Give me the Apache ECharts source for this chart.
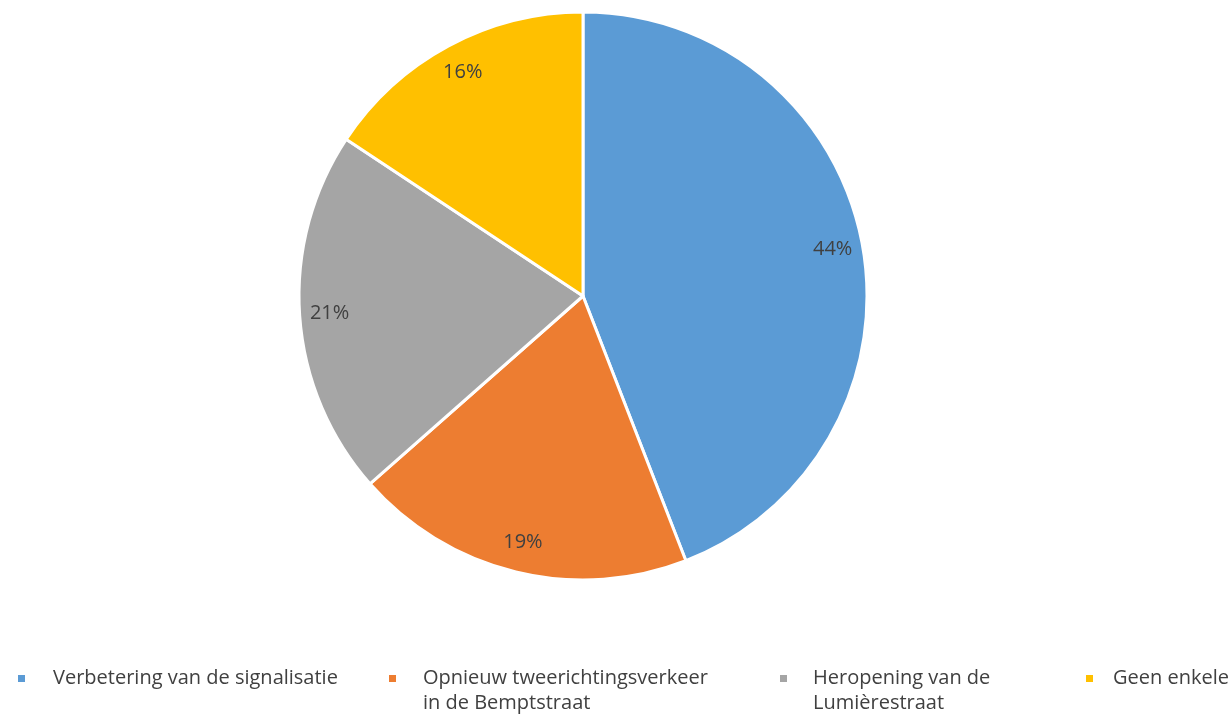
<!DOCTYPE html>
<html>
<head>
<meta charset="utf-8">
<script src="https://cdn.jsdelivr.net/npm/echarts@6/dist/echarts.min.js"></script>
<style>
html,body{margin:0;padding:0;background:#fff;}
#chart{width:1232px;height:714px;}
</style>
</head>
<body>
<div id="chart"></div>
<script>
// Data
const categories = [
  'Verbetering van de signalisatie',
  'Opnieuw tweerichtingsverkeer in de Bemptstraat',
  'Heropening van de Lumièrestraat',
  'Geen enkele'
];
const legendTexts = [
  'Verbetering van de signalisatie',
  'Opnieuw tweerichtingsverkeer\nin de Bemptstraat',
  'Heropening van de\nLumièrestraat',
  'Geen enkele'
];
const values = [44.1, 19.4, 20.8, 15.7];
const colors = ['#5B9BD5', '#ED7D31', '#A5A5A5', '#FFC000'];

const FONT = 'Open Sans';
const legendLeft = [16, 387, 778, 1084];
const textPadLeft = [22, 21, 20, 14];
const twoLine = legendTexts.map(t => t.indexOf('\n') >= 0);
const LH = 25;
const iconCenterY = 678.5;

const data = categories.map((c, i) => ({ name: c, value: values[i], itemStyle: { color: colors[i] } }));

const legends = categories.map((c, i) => ({
  data: [c],
  left: legendLeft[i],
  top: twoLine[i] ? iconCenterY - 1.5 * LH : iconCenterY - 0.5 * LH,
  padding: 0,
  orient: 'horizontal',
  itemWidth: 9,
  itemHeight: 9,
  icon: 'rect',
  selectedMode: false,
  formatter: () => (twoLine[i] ? ' \n' : '') + legendTexts[i],
  textStyle: {
    fontFamily: FONT,
    fontSize: 20,
    color: '#404040',
    lineHeight: LH,
    padding: [0, 0, 0, textPadLeft[i]]
  }
}));

const chart = echarts.init(document.getElementById('chart'), null, { renderer: 'canvas' });
chart.setOption({
  animation: false,
  color: colors,
  legend: legends,
  series: [
    {
      type: 'pie',
      center: [583, 296],
      radius: [0, 284],
      startAngle: 90,
      clockwise: true,
      data: data,
      label: { show: false },
      labelLine: { show: false },
      itemStyle: { borderColor: '#ffffff', borderWidth: 3 },
      emphasis: { disabled: true }
    },
    {
      type: 'pie',
      center: [583, 296],
      radius: [0, 502],
      startAngle: 90,
      clockwise: true,
      silent: true,
      z: 5,
      data: categories.map((c, i) => ({ name: c, value: values[i], itemStyle: { color: 'rgba(0,0,0,0)', borderWidth: 0 } })),
      label: {
        show: true,
        position: 'inside',
        formatter: p => Math.round(p.percent) + '%',
        fontFamily: FONT,
        fontSize: 20,
        color: '#404040'
      },
      labelLine: { show: false },
      emphasis: { disabled: true }
    }
  ]
});
</script>
</body>
</html>
